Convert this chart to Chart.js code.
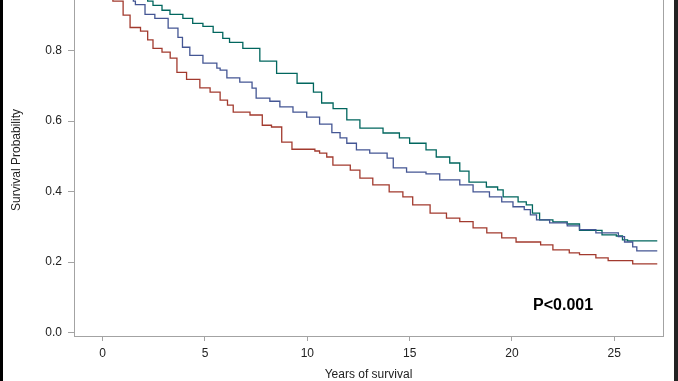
<!DOCTYPE html>
<html><head><meta charset="utf-8">
<script src="https://cdn.jsdelivr.net/npm/chart.js@4/dist/chart.umd.min.js"></script>
<style>
html,body{margin:0;padding:0;background:#fff;}
#wrap{position:relative;width:678px;height:381px;overflow:hidden;background:#fff;}
#c{position:absolute;left:0;top:0;}
.bl{position:absolute;top:0;left:0;width:3px;height:381px;background:#000;}
.br{position:absolute;top:0;left:674px;width:4px;height:381px;background:#222;}
</style></head><body>
<div id="wrap"><canvas id="c" width="678" height="381" style="width:678px;height:381px"></canvas><div class="bl"></div><div class="br"></div></div>
<script>
// ---- data ----
const redTimes = [0,0.5,1.0,1.34,1.85,2.2,2.46,2.9,3.3,3.63,4.1,4.75,5.25,5.74,6.1,6.38,7.2,7.8,8.25,8.75,9.25,10.37,10.6,10.95,11.25,12.1,12.57,13.2,14.0,14.67,15.15,16.0,16.8,17.45,18.1,18.77,19.5,20.2,21.4,22.0,22.8,23.3,24.1,24.7,25.9,27.1];
const redSurv  = [1.0,0.94,0.90,0.865,0.855,0.83,0.806,0.795,0.778,0.738,0.718,0.694,0.682,0.659,0.645,0.625,0.617,0.588,0.583,0.540,0.520,0.515,0.509,0.498,0.475,0.461,0.438,0.419,0.399,0.385,0.362,0.339,0.325,0.315,0.297,0.283,0.269,0.257,0.249,0.235,0.226,0.221,0.212,0.204,0.195,0.195];

const blueTimes = [0,1.5,1.6,2.07,2.55,3.2,3.68,3.9,4.26,4.9,5.58,5.74,6.07,6.7,7.3,7.5,8.17,8.66,9.3,9.97,10.6,11.2,11.6,11.93,12.4,13.05,13.9,14.2,14.85,15.8,16.47,17.45,18.1,18.9,19.5,20.05,20.6,20.9,21.2,21.84,22.7,23.3,24.1,25.2,25.5,25.9,26.1,27.1];
const blueSurv  = [1.0,0.94,0.93,0.902,0.891,0.863,0.837,0.809,0.786,0.764,0.75,0.744,0.722,0.71,0.693,0.665,0.656,0.64,0.625,0.611,0.591,0.567,0.552,0.537,0.518,0.509,0.495,0.467,0.455,0.45,0.433,0.419,0.399,0.385,0.371,0.357,0.349,0.334,0.32,0.311,0.303,0.292,0.283,0.272,0.257,0.243,0.232,0.232];

const greenTimes = [0,2.2,2.46,2.9,3.29,3.92,4.4,4.9,5.4,5.87,6.2,6.85,7.68,8.5,9.5,10.3,10.7,11.26,11.93,12.57,13.7,14.5,15.0,15.8,16.3,16.96,17.45,17.9,18.75,19.3,19.57,20.3,20.7,21.0,21.35,22.0,22.7,23.3,24.4,25.1,25.4,25.65,27.1];
const greenSurv  = [1.0,0.94,0.928,0.914,0.902,0.891,0.877,0.868,0.851,0.834,0.823,0.806,0.77,0.735,0.707,0.682,0.651,0.635,0.603,0.58,0.566,0.552,0.537,0.518,0.498,0.481,0.458,0.427,0.413,0.405,0.385,0.371,0.362,0.339,0.32,0.314,0.308,0.29,0.277,0.274,0.263,0.26,0.26];

const xTickValues = [0,5,10,15,20,25];
const yTickValues = [0.0,0.2,0.4,0.6,0.8];
const xTitle = 'Years of survival';
const yTitle = 'Survival Probability';
const pLabel = 'P<0.001';
const pLabelAt = {x: 22.5, y: 0.076};

// ---- build ----
const toPts = (t, s) => t.map((v, i) => ({x: v, y: s[i]}));
const FONT = '"Liberation Sans", Arial, sans-serif';
const AXIS = '#a3a3a3';
const TXT = '#222';

const extras = {
  id: 'extras',
  afterDraw(chart) {
    const ctx = chart.ctx, a = chart.chartArea;
    ctx.save();
    ctx.strokeStyle = AXIS; ctx.lineWidth = 1;
    ctx.beginPath(); ctx.moveTo(Math.round(a.right) + 0.5, 0); ctx.lineTo(Math.round(a.right) + 0.5, a.bottom); ctx.stroke();
    ctx.fillStyle = TXT;
    ctx.font = '12px ' + FONT;
    ctx.textAlign = 'center'; ctx.textBaseline = 'middle';
    ctx.fillText(xTitle, (a.left + a.right) / 2, 375);
    ctx.save(); ctx.translate(17, 160); ctx.rotate(-Math.PI / 2); ctx.fillText(yTitle, 0, 0); ctx.restore();
    ctx.font = 'bold 16px ' + FONT;
    ctx.fillStyle = '#000';
    ctx.fillText(pLabel, chart.scales.x.getPixelForValue(pLabelAt.x), chart.scales.y.getPixelForValue(pLabelAt.y));
    ctx.restore();
  }
};

const ds = (label, t, s, color) => ({
  label, data: toPts(t, s), borderColor: color, backgroundColor: color,
  borderWidth: 1.3, pointRadius: 0, stepped: 'before', fill: false, tension: 0
});

new Chart(document.getElementById('c'), {
  type: 'line',
  data: { datasets: [
    ds('Group 1', blueTimes, blueSurv, '#445694'),
    ds('Group 2', redTimes, redSurv, '#A23A2E'),
    ds('Group 3', greenTimes, greenSurv, '#01665E')
  ]},
  options: {
    responsive: false, animation: false, events: [],
    layout: { autoPadding: false, padding: { left: 0, right: 15, top: 0, bottom: 0 } },
    plugins: { legend: { display: false }, tooltip: { enabled: false } },
    scales: {
      x: {
        type: 'linear', min: -1.40, max: 27.38,
        afterBuildTicks: s => { s.ticks = xTickValues.map(v => ({ value: v })); },
        afterFit: s => { s.height = 45; s.paddingLeft = 0; s.paddingRight = 0; s.paddingTop = 0; s.paddingBottom = 0; },
        grid: { display: true, drawOnChartArea: false, drawTicks: true, tickLength: 5, color: AXIS },
        border: { display: true, color: AXIS },
        ticks: { color: TXT, font: { size: 12, family: FONT }, padding: 5, maxRotation: 0, callback: v => String(v) }
      },
      y: {
        type: 'linear', min: -0.0094, max: 0.943,
        afterBuildTicks: s => { s.ticks = yTickValues.map(v => ({ value: v })); },
        afterFit: s => { s.width = 74; s.paddingTop = 0; s.paddingBottom = 0; s.paddingLeft = 0; s.paddingRight = 0; },
        grid: { display: true, drawOnChartArea: false, drawTicks: true, tickLength: 6, color: AXIS },
        border: { display: true, color: AXIS },
        ticks: { color: TXT, font: { size: 12, family: FONT }, padding: 6, callback: v => Number(v).toFixed(1) }
      }
    }
  },
  plugins: [extras]
});
</script>
</body></html>
